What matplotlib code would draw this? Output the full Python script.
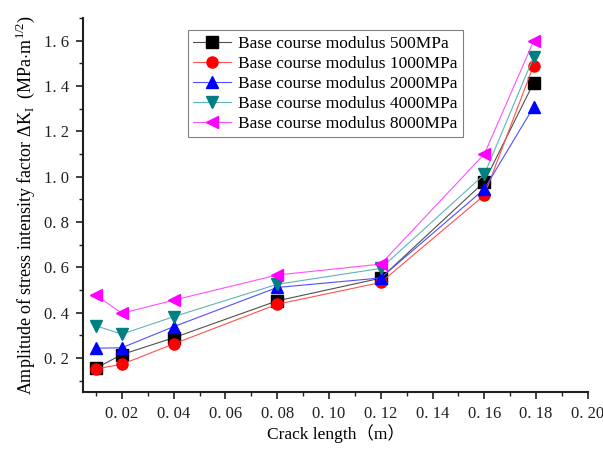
import numpy as np
import matplotlib
matplotlib.use('Agg')
import matplotlib.pyplot as plt
from matplotlib.ticker import MultipleLocator, FixedLocator

plt.rcParams['font.family'] = ['Liberation Serif', 'DejaVu Serif']
plt.rcParams['mathtext.fontset'] = 'custom'
plt.rcParams['mathtext.rm'] = 'Liberation Serif'

# data
crack_len = [0.01, 0.02, 0.04, 0.08, 0.12, 0.16, 0.179]
k_500 = [0.155, 0.215, 0.289, 0.452, 0.552, 0.977, 1.413]
k_1000 = [0.152, 0.172, 0.262, 0.437, 0.533, 0.918, 1.490]
k_2000 = [0.243, 0.245, 0.338, 0.511, 0.553, 0.945, 1.307]
k_4000 = [0.342, 0.305, 0.382, 0.525, 0.595, 1.010, 1.527]
k_8000 = [0.477, 0.397, 0.455, 0.566, 0.614, 1.100, 1.597]

labels = ['Base course modulus 500MPa', 'Base course modulus 1000MPa',
          'Base course modulus 2000MPa', 'Base course modulus 4000MPa',
          'Base course modulus 8000MPa']
x_ticks = [0.02, 0.04, 0.06, 0.08, 0.10, 0.12, 0.14, 0.16, 0.18, 0.20]
x_ticklabels = ['0. 02', '0. 04', '0. 06', '0. 08', '0. 10', '0. 12', '0. 14',
                '0. 16', '0. 18', '0. 20']
y_ticks = [0.2, 0.4, 0.6, 0.8, 1.0, 1.2, 1.4, 1.6]
y_ticklabels = ['0. 2', '0. 4', '0. 6', '0. 8', '1. 0', '1. 2', '1. 4', '1. 6']

series = [k_500, k_1000, k_2000, k_4000, k_8000]
line_colors = ['#505050', '#ff5050', '#5050ff', '#60b4b4', '#ff50ff']
mk_colors = ['black', 'red', 'blue', '#008080', 'magenta']
markers = ['s', 'o', '^', 'v', '<']

fig = plt.figure(figsize=(6.03, 4.5), dpi=100)
ax = fig.add_axes([0.1376, 0.129, 0.8374, 0.831])

for vals, lab, lc, mc, m in zip(series, labels, line_colors, mk_colors, markers):
    ax.plot(crack_len, vals, color=lc, lw=0.8, marker=m, markersize=8,
            markerfacecolor=mc, markeredgecolor=mc, label=lab)

ax.set_xlim(0.005, 0.20)
ax.set_ylim(0.05, 1.7)
ax.xaxis.set_major_locator(FixedLocator(x_ticks))
ax.set_xticklabels(x_ticklabels)
ax.xaxis.set_minor_locator(MultipleLocator(0.01))
ax.yaxis.set_major_locator(FixedLocator(y_ticks))
ax.set_yticklabels(y_ticklabels)
ax.yaxis.set_minor_locator(MultipleLocator(0.1))

ax.spines['top'].set_visible(False)
ax.spines['right'].set_visible(False)
for s in ['left', 'bottom']:
    ax.spines[s].set_linewidth(1.5)
    ax.spines[s].set_color('#202020')
ax.tick_params(which='major', direction='out', length=5, width=1.2,
               labelsize=12, colors='#202020', pad=5)
ax.tick_params(which='minor', direction='out', length=3, width=1.0,
               colors='#202020')

ax.set_xlabel('Crack length（m）', fontsize=12.5, labelpad=2,
              family=['Liberation Serif', 'Noto Sans CJK SC'])
ax.set_ylabel(r'Amplitude of stress intensity factor $\Delta\mathrm{K}_\mathrm{I}$'
              r'  (MPa$\cdot$m$^{1/2}$)', fontsize=13, labelpad=5)

leg = ax.legend(loc='upper left', bbox_to_anchor=(0.19, 0.99), fontsize=12.5,
                fancybox=False, edgecolor='#808080', framealpha=1,
                handlelength=2.2, borderpad=0.3, labelspacing=0.22,
                handletextpad=0.4)
leg.get_frame().set_linewidth(0.8)

fig.savefig('out.png', dpi=100)
